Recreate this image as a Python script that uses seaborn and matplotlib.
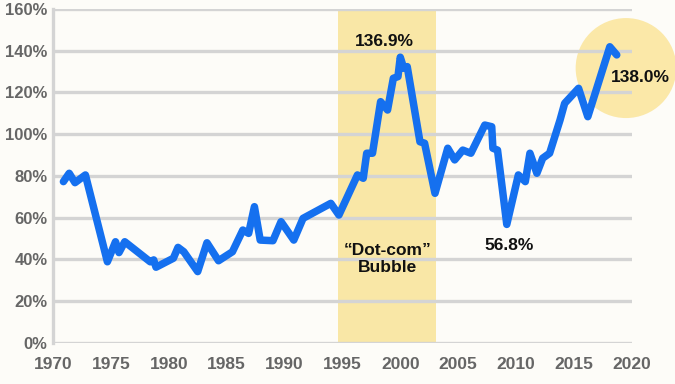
import matplotlib
matplotlib.use("Agg")
import matplotlib.pyplot as plt
import seaborn as sns
import pandas as pd
from matplotlib.patches import Ellipse

years = [1970.9, 1971.4, 1971.9, 1972.8, 1974.7, 1975.4, 1975.7, 1976.2, 1978.4, 1978.7,
         1978.9, 1980.4, 1980.8, 1981.3, 1982.5, 1983.3, 1984.3, 1985.5, 1986.4, 1986.9,
         1987.4, 1987.9, 1989.0, 1989.7, 1990.8, 1991.6, 1994.0, 1994.7, 1996.3, 1996.8,
         1997.1, 1997.6, 1998.3, 1998.9, 1999.4, 1999.8, 2000.0, 2000.3, 2000.6, 2001.7,
         2002.1, 2003.0, 2004.1, 2004.7, 2005.4, 2006.1, 2007.3, 2007.9, 2008.0, 2008.4,
         2009.2, 2010.2, 2010.8, 2011.2, 2011.8, 2012.3, 2012.9, 2013.8, 2014.2, 2015.4,
         2016.2, 2018.1, 2018.7]
values = [77.3, 81.3, 76.8, 80.5, 38.9, 48.5, 43.3, 48.5, 38.9, 39.8,
          36.3, 40.6, 45.8, 43.7, 34.2, 48.0, 39.4, 43.7, 54.1, 52.5,
          65.3, 49.3, 49.0, 58.1, 49.3, 59.7, 66.9, 61.3, 80.5, 78.9,
          90.9, 90.9, 115.6, 111.6, 126.8, 127.6, 136.9, 131.6, 132.4, 96.4,
          95.7, 71.7, 93.3, 87.7, 92.4, 90.9, 104.4, 103.6, 93.3, 92.4,
          56.8, 80.5, 77.3, 90.9, 81.3, 88.5, 90.9, 106.8, 114.8, 122.0,
          108.4, 141.9, 138.0]

xticks = [1970, 1975, 1980, 1985, 1990, 1995, 2000, 2005, 2010, 2015, 2020]
yticks = [0, 20, 40, 60, 80, 100, 120, 140, 160]
ytick_labels = [f"{v}%" for v in yticks]

bubble_span = (1994.6, 2003.1)
annotations = [("136.9%", 1998.6, 144.3), ("56.8%", 2009.4, 46.5),
               ("138.0%", 2020.7, 127.3), ("\u201cDot-com\u201d\nBubble", 1998.9, 40.2)]

bg = "#fdfcf8"
sns.set_theme(style="white")
plt.rcParams["font.family"] = ["Liberation Sans", "DejaVu Sans"]

fig = plt.figure(figsize=(6.75, 3.84), dpi=100, facecolor=bg)
ax = fig.add_axes([0.0785, 0.1068, 0.8575, 0.8698])
ax.set_facecolor(bg)

df = pd.DataFrame({"year": years, "value": values})

ax.axvspan(*bubble_span, color="#f9e7a6", zorder=0, lw=0)
circ = Ellipse((2019.5, 131.7), width=8.7, height=47.9, color="#fbe8a8",
               zorder=0, lw=0, clip_on=False)
ax.add_patch(circ)

sns.lineplot(data=df, x="year", y="value", ax=ax, color="#1570ef", lw=5.4,
             solid_joinstyle="round", solid_capstyle="round", zorder=3)

ax.set_xlim(1970, 2020)
ax.set_ylim(0, 160)
ax.set_xticks(xticks)
ax.set_xticklabels([str(x) for x in xticks])
ax.set_yticks(yticks)
ax.set_yticklabels(ytick_labels)
ax.set_axisbelow(True)
ax.yaxis.grid(True, color="#d4d4d4", lw=2.4)
ax.xaxis.grid(False)
for s in ["top", "right", "bottom"]:
    ax.spines[s].set_visible(False)
ax.spines["left"].set_color("#d4d4d4")
ax.spines["left"].set_linewidth(2.4)
ax.tick_params(axis="both", length=0, labelsize=12, labelcolor="#666666")
ax.tick_params(axis="x", pad=10, labelsize=12.5)
ax.tick_params(axis="y", pad=4)
for lab in ax.get_xticklabels() + ax.get_yticklabels():
    lab.set_fontweight("bold")
ax.set_xlabel("")
ax.set_ylabel("")

for text, x, y in annotations:
    ax.text(x, y, text, ha="center", va="center", fontsize=12.5, fontweight="bold",
            color="#111111", clip_on=False, linespacing=1.15, zorder=5)

fig.savefig("out.png", dpi=100, facecolor=bg)
